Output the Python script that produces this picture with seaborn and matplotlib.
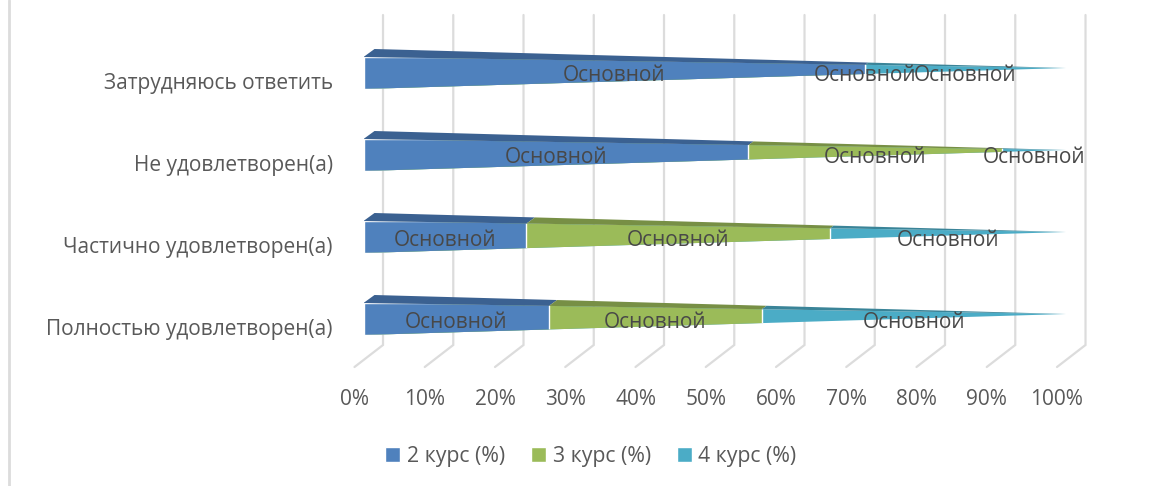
import pandas as pd
import matplotlib.pyplot as plt
import seaborn as sns
from matplotlib.transforms import ScaledTranslation
from matplotlib.path import Path
from matplotlib.patches import Patch

# Данные диаграммы
categories = ['Затрудняюсь ответить', 'Не удовлетворен(а)', 'Частично удовлетворен(а)', 'Полностью удовлетворен(а)']
series_names = ['2 курс (%)', '3 курс (%)', '4 курс (%)']
kurs2 = [71.4, 54.8, 23.2, 26.4]
kurs3 = [0.0, 36.1, 43.2, 30.3]
kurs4 = [28.6, 9.1, 33.6, 43.3]
x_ticks = [0, 10, 20, 30, 40, 50, 60, 70, 80, 90, 100]
x_tick_labels = ['0%', '10%', '20%', '30%', '40%', '50%', '60%', '70%', '80%', '90%', '100%']
point_label = 'Основной'

colors = ['#4F81BD', '#9BBB59', '#4BACC6']
dark_colors = ['#3B6191', '#778F45', '#3A8498']
grid_color = '#DCDCDC'

sns.set_theme(style='white')
plt.rcParams['font.family'] = ['Open Sans', 'DejaVu Sans']

W, H = 1153, 486
fig = plt.figure(figsize=(W / 100, H / 100), dpi=100)
# оси: 0-100% = 364..1066 px, шаг строк 82 px
ax = fig.add_axes([363.5 / W, (H - 360) / H, 702.5 / W, 328 / H])


def px_x(p):
    return p / 7.02


def px_y(p):
    return p / 82


# таблица с накоплением
rows = []
for i, cat in enumerate(categories):
    c2 = kurs2[i]
    c3 = c2 + kurs3[i]
    c4 = c3 + kurs4[i]
    for name, cum in zip(series_names, [c2, c3, c4]):
        rows.append({'cat': cat, 'series': name, 'cum': cum})
df = pd.DataFrame(rows)

sns.barplot(data=df, y='cat', x='cum', hue='series', order=categories,
            hue_order=series_names[::-1], palette=dict(zip(series_names, colors)),
            dodge=False, width=32 / 82, saturation=1, legend=False, ax=ax, zorder=3)
ax.set_xlim(0, 100)
ax.set_ylim(3.5, -0.5)
ax.set_xlabel('')
ax.set_ylabel('')
sns.despine(ax=ax, left=True, bottom=True)

# задняя стенка и пол
for t in x_ticks:
    gx = t + px_x(19.5)
    ax.plot([gx, gx, t - px_x(9)], [px_y(15 - 73), px_y(345 - 73), px_y(367 - 73)],
            color=grid_color, lw=1.6, clip_on=False, zorder=1, solid_joinstyle='miter')

half = px_y(16)
tip_y = px_y(11 - 16)
back_up = px_y(8)
back_dx = px_x(11)

for container in ax.containers:
    for i, bar in enumerate(container):
        # передняя грань: прямоугольник обрезается до треугольника
        tri = Path([(0, i - half), (0, i + half), (100, i + tip_y), (0, i - half)])
        bar.set_clip_path(tri, ax.transData)


def back_point(f, i):
    return (back_dx * (1 - f / 100) + f, i - half - back_up + (back_up + half + tip_y) * f / 100)


def front_top(f, i):
    return (f, i - half + (half + tip_y) * f / 100)


# верхняя грань
for i in range(len(categories)):
    left = 0.0
    for vals, dark in zip([kurs2, kurs3, kurs4], dark_colors):
        right = left + vals[i]
        if vals[i] > 0:
            pts = [front_top(left, i), front_top(right, i), back_point(right, i), back_point(left, i)]
            ax.fill([p[0] for p in pts], [p[1] for p in pts], color=dark, lw=0, zorder=4)
        # подпись по центру сегмента
        ax.text((left + right) / 2, i + px_y(3), point_label, ha='center', va='center',
                fontsize=15, color='#484848', zorder=6, clip_on=False)
        left = right

# подписи осей
ax.set_xticks(x_ticks)
ax.set_xticklabels(x_tick_labels)
ax.set_yticks(range(len(categories)))
ax.set_yticklabels(categories)
ax.tick_params(axis='x', length=0, pad=21, labelsize=15, labelcolor='#595959')
ax.tick_params(axis='y', length=0, pad=22, labelsize=15, labelcolor='#595959')
for lab in ax.get_xticklabels():
    lab.set_transform(lab.get_transform() + ScaledTranslation(-9 / 100, 0, fig.dpi_scale_trans))
for lab in ax.get_yticklabels():
    lab.set_transform(lab.get_transform() + ScaledTranslation(0, -8 / 100, fig.dpi_scale_trans))

handles = [Patch(facecolor=c, label=n) for c, n in zip(colors, series_names)]
fig.legend(handles=handles, loc='center', bbox_to_anchor=(591 / W, (H - 456) / H), ncol=3, frameon=False,
           fontsize=15.3, labelcolor='#595959', handlelength=0.7, handleheight=0.7,
           handletextpad=0.3, columnspacing=1.25)

# рамка слева
fig.add_artist(plt.Line2D([8.5 / W, 8.5 / W], [0, 1], color=grid_color, lw=2))

fig.savefig('out.png', dpi=100)
